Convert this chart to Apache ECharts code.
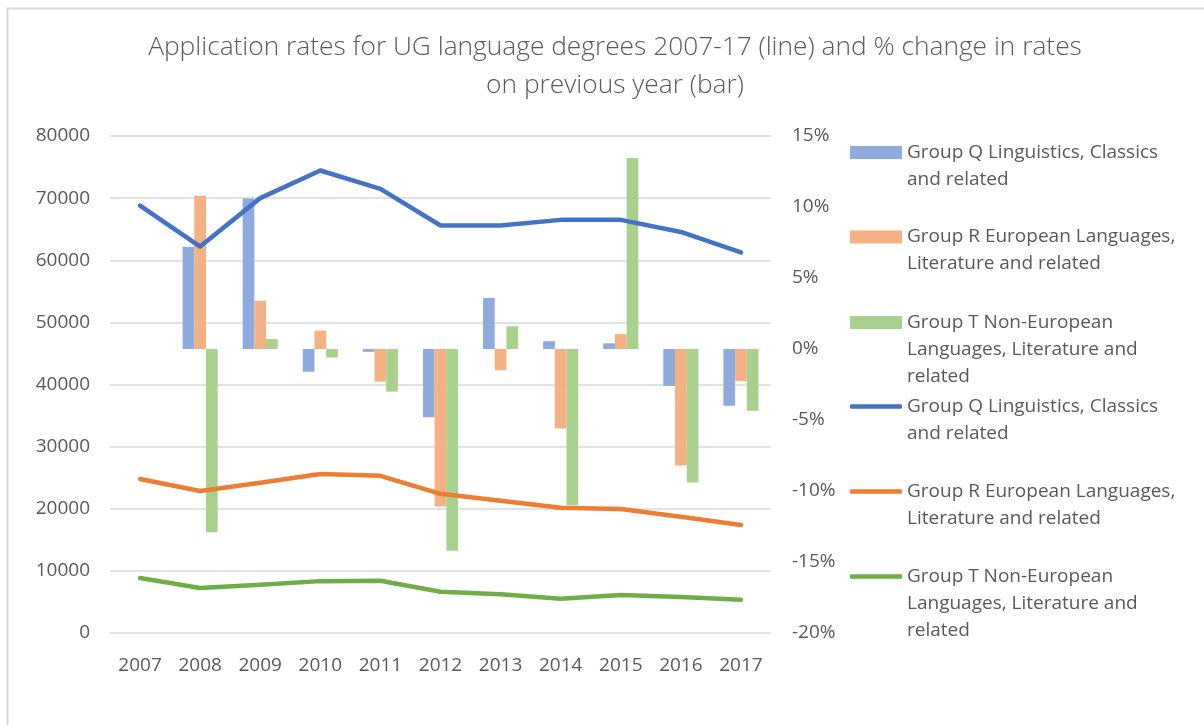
<!DOCTYPE html>
<html>
<head>
<meta charset="utf-8">
<script src="https://cdn.jsdelivr.net/npm/echarts@6/dist/echarts.min.js"></script>
<style>
  html, body { margin: 0; padding: 0; background: #fff; }
  #chart { width: 1204px; height: 725px; }
</style>
</head>
<body>
<div id="chart"></div>
<script>
// years on the x axis
const years = ['2007', '2008', '2009', '2010', '2011', '2012', '2013', '2014', '2015', '2016', '2017'];

// application numbers (left axis, lines)
const qApps = [68800, 62200, 70000, 74450, 71500, 65600, 65600, 66500, 66500, 64550, 61250];
const rApps = [24800, 22850, 24200, 25600, 25300, 22400, 21300, 20150, 19950, 18700, 17400];
const tApps = [8850, 7250, 7750, 8350, 8400, 6650, 6250, 5500, 6100, 5800, 5350];

// % change on previous year (right axis, bars)
const qChange = [null, 7.2, 10.6, -1.6, -0.2, -4.8, 3.6, 0.55, 0.4, -2.6, -4.0];
const rChange = [null, 10.8, 3.4, 1.3, -2.3, -11.1, -1.5, -5.6, 1.05, -8.2, -2.25];
const tChange = [null, -12.9, 0.7, -0.6, -3.0, -14.2, 1.6, -11.0, 13.45, -9.4, -4.35];

const leftTicks = { min: 0, max: 80000, interval: 10000 };
const rightTicks = { min: -20, max: 15, interval: 5 };

const labelQ = ['Group Q Linguistics, Classics', 'and related'];
const labelR = ['Group R European Languages,', 'Literature and related'];
const labelT = ['Group T Non-European', 'Languages, Literature and', 'related'];

const txt = '#595959';
const font = 'Open Sans';
const lineH = 27;

// one legend block per entry so each sits where Excel put it;
// blank lines in front push the first text line level with the icon
const legendItems = [
  { name: 'qBar', label: labelQ, cy: 152.5, line: false },
  { name: 'rBar', label: labelR, cy: 237, line: false },
  { name: 'tBar', label: labelT, cy: 322.5, line: false },
  { name: 'qLine', label: labelQ, cy: 406.5, line: true },
  { name: 'rLine', label: labelR, cy: 491.5, line: true },
  { name: 'tLine', label: labelT, cy: 576.5, line: true }
];

const legends = legendItems.map(it => {
  const k = it.label.length;
  const lead = new Array(k - 1).fill(' ');
  const ih = it.line ? 4.5 : 13;
  return {
    data: [it.name],
    left: 850,
    top: it.cy - lineH * (2 * k - 1) / 2,
    padding: 0,
    itemWidth: 52,
    itemHeight: ih,
    icon: it.line ? 'roundRect' : 'rect',
    selectedMode: false,
    formatter: () => lead.concat(it.label).join('\n'),
    textStyle: { color: txt, fontFamily: font, fontSize: 19, lineHeight: lineH }
  };
});

const barBase = { type: 'bar', yAxisIndex: 1, barWidth: 11.7, barGap: '0%' };
const lineBase = {
  type: 'line', yAxisIndex: 0, symbol: 'none',
  lineStyle: { width: 4.5, cap: 'round', join: 'round' }
};

const chart = echarts.init(document.getElementById('chart'));
chart.setOption({
  animation: false,
  title: {
    text: 'Application rates for UG language degrees 2007-17 (line) and % change in rates\non previous year (bar)',
    left: 610,
    textAlign: 'center',
    top: 24,
    textStyle: { color: txt, fontFamily: font, fontSize: 26.3, fontWeight: 300, lineHeight: 38 }
  },
  graphic: [
    { type: 'line', shape: { x1: 7, y1: 8.5, x2: 1204, y2: 8.5 }, style: { stroke: '#d9d9d9', lineWidth: 2 } },
    { type: 'line', shape: { x1: 7.5, y1: 8, x2: 7.5, y2: 725 }, style: { stroke: '#d9d9d9', lineWidth: 2 } }
  ],
  legend: legends,
  grid: { left: 110, right: 433, top: 136, bottom: 92, containLabel: false },
  xAxis: {
    type: 'category',
    data: years,
    axisLine: { show: false },
    axisTick: { show: false },
    axisLabel: { color: txt, fontFamily: font, fontSize: 19, margin: 23 }
  },
  yAxis: [
    {
      type: 'value',
      ...leftTicks,
      axisLine: { show: false },
      axisTick: { show: false },
      splitLine: { lineStyle: { color: '#d9d9d9', width: 1.5 } },
      axisLabel: { color: txt, fontFamily: font, fontSize: 19, margin: 20, formatter: v => String(v) }
    },
    {
      type: 'value',
      ...rightTicks,
      position: 'right',
      axisLine: { show: false },
      axisTick: { show: false },
      splitLine: { show: false },
      axisLabel: { color: txt, fontFamily: font, fontSize: 19, margin: 21, formatter: '{value}%' }
    }
  ],
  series: [
    { ...barBase, name: 'qBar', data: qChange, itemStyle: { color: '#8FAADC' } },
    { ...barBase, name: 'rBar', data: rChange, itemStyle: { color: '#F4B183' } },
    { ...barBase, name: 'tBar', data: tChange, itemStyle: { color: '#A9D18E' } },
    { ...lineBase, name: 'qLine', data: qApps, itemStyle: { color: '#4472C4' }, lineStyle: { ...lineBase.lineStyle, color: '#4472C4' } },
    { ...lineBase, name: 'rLine', data: rApps, itemStyle: { color: '#ED7D31' }, lineStyle: { ...lineBase.lineStyle, color: '#ED7D31' } },
    { ...lineBase, name: 'tLine', data: tApps, itemStyle: { color: '#70AD47' }, lineStyle: { ...lineBase.lineStyle, color: '#70AD47' } }
  ]
});
</script>
</body>
</html>
